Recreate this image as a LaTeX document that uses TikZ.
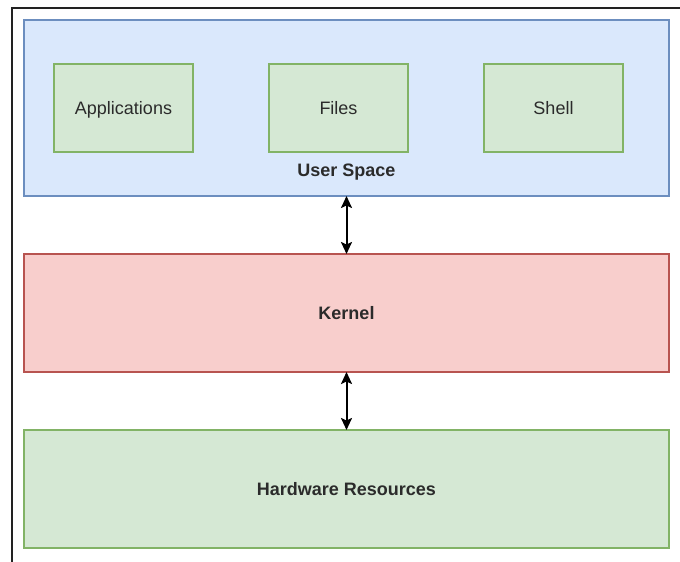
\documentclass[tikz,border=0pt]{standalone}
\usepackage{fontspec}
\setmainfont{Liberation Sans}
\usetikzlibrary{arrows.meta}
\definecolor{bluefill}{HTML}{DAE8FC}
\definecolor{bluedraw}{HTML}{6C8EBF}
\definecolor{redfill}{HTML}{F8CECC}
\definecolor{reddraw}{HTML}{B85450}
\definecolor{greenfill}{HTML}{D5E8D4}
\definecolor{greendraw}{HTML}{82B366}
\definecolor{txt}{HTML}{2B2B2B}
\definecolor{frame}{HTML}{222222}
\tikzset{
  box/.style={draw, rectangle, line width=1.3pt, outer sep=0pt, inner sep=0pt,
    text=txt, font=\fontsize{18}{21}\selectfont, text height=13pt, text depth=0pt},
  bluebox/.style={box, fill=bluefill, draw=bluedraw},
  redbox/.style={box, fill=redfill, draw=reddraw},
  greenbox/.style={box, fill=greenfill, draw=greendraw},
  boldbox/.style={font=\fontsize{18}{21}\selectfont\bfseries},
  boldlabel/.style={text=txt, font=\fontsize{18}{21}\selectfont\bfseries, inner sep=0pt, text height=13pt, text depth=0pt},
  arr/.style={line width=2pt, {Stealth[length=12pt,width=11pt,inset=2.5pt]}-{Stealth[length=12pt,width=11pt,inset=2.5pt]}},
}
\begin{document}
\begin{tikzpicture}[x=1pt,y=-1pt]
\useasboundingbox (0,0) rectangle (680,562);
% partial frame
\coordinate (f1) at (12,562);
\coordinate (f2) at (12,8);
\coordinate (f3) at (680,8);
\draw[frame, line width=1.5pt] (f1) -- (f2) -- (f3);
% user space
\node[bluebox, minimum width=645pt, minimum height=176pt] (us) at (346.5,108) {};
\node[greenbox, minimum width=139pt, minimum height=88pt] (app) at (123.5,108) {Applications};
\node[greenbox, minimum width=139pt, minimum height=88pt] (files) at (338.5,108) {Files};
\node[greenbox, minimum width=139pt, minimum height=88pt] (shell) at (553.5,108) {Shell};
\node[boldlabel] (usl) at (346.5,170) {User Space};
% kernel
\node[redbox, boldbox, minimum width=645pt, minimum height=118pt] (kern) at (346.5,313) {Kernel};
% hardware
\node[greenbox, boldbox, minimum width=645pt, minimum height=118pt] (hw) at (346.5,489) {Hardware Resources};
% arrows
\draw[arr] (us.south) -- (kern.north);
\draw[arr] (kern.south) -- (hw.north);
\end{tikzpicture}
\end{document}
